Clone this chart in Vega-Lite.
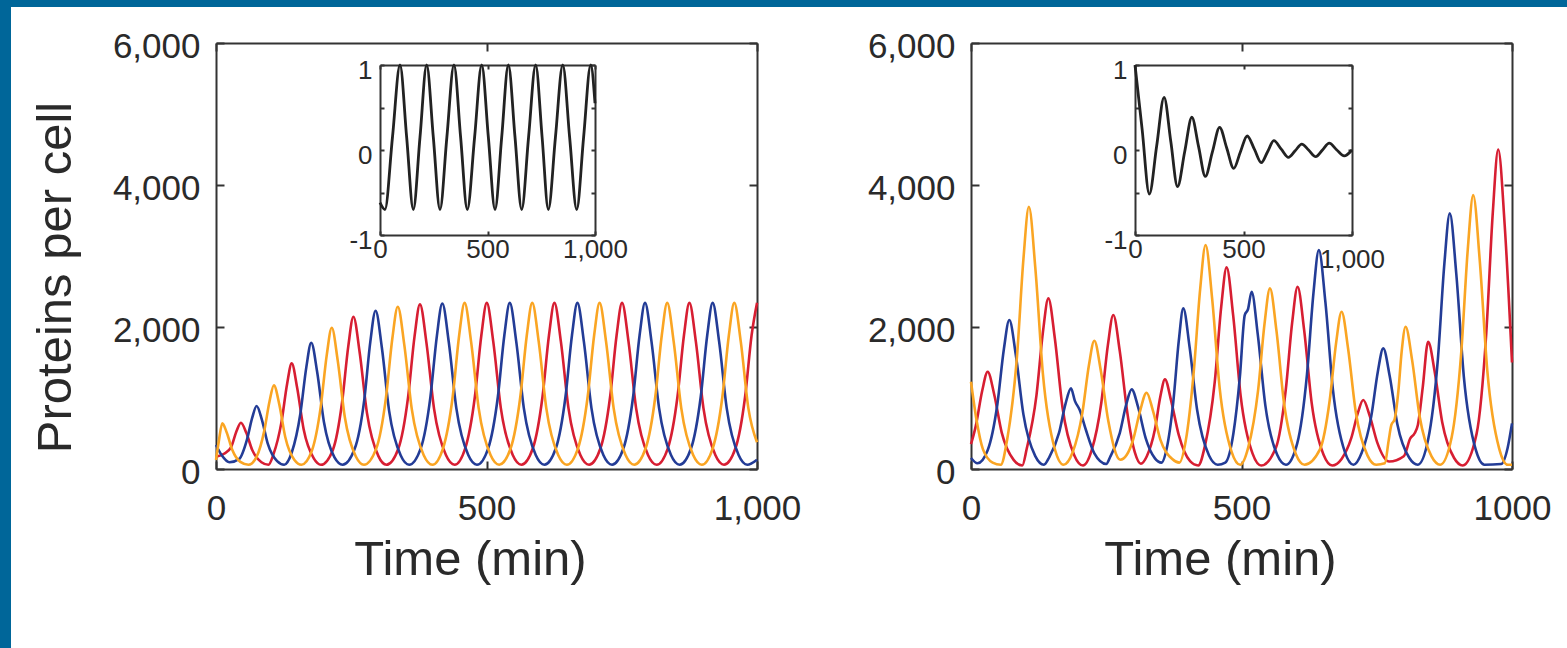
{
  "$schema": "https://vega.github.io/schema/vega-lite/v6.json",
  "width": 1556,
  "height": 641,
  "autosize": {"type": "none"},
  "padding": {"left": 11, "top": 7, "right": 0, "bottom": 0},
  "background": "#006699",
  "config": {
    "view": {"fill": "white", "stroke": null},
    "font": "Liberation Sans",
    "axis": {"grid": false, "domainColor": "#333333", "domainWidth": 2, "tickColor": "#333333", "tickWidth": 2, "labelColor": "#2a2a2a", "titleColor": "#2a2a2a", "labelFont": "Liberation Sans", "titleFont": "Liberation Sans", "titleFontWeight": "normal", "labelFlush": false, "labelOverlap": false}
  },
  "datasets": {
    "left": [
      {"s":"r","t":0,"v":173},{"s":"r","t":15,"v":215},{"s":"r","t":28,"v":309},{"s":"r","t":38,"v":534},{"s":"r","t":46,"v":652},{"s":"r","t":56,"v":510},{"s":"r","t":67,"v":267},{"s":"r","t":84,"v":96},{"s":"r","t":97,"v":60},
      {"s":"r","t":106,"v":203},{"s":"r","t":121,"v":660},{"s":"r","t":131.5,"v":1202},{"s":"r","t":140,"v":1488},{"s":"r","t":150,"v":1145},{"s":"r","t":162,"v":560},{"s":"r","t":181,"v":146},{"s":"r","t":194,"v":60},
      {"s":"r","t":216,"v":269},{"s":"r","t":233,"v":936},{"s":"r","t":244.5,"v":1728},{"s":"r","t":254,"v":2145},{"s":"r","t":265.5,"v":1645},{"s":"r","t":279,"v":790},{"s":"r","t":300,"v":185},{"s":"r","t":315,"v":60},
      {"s":"r","t":337,"v":286},{"s":"r","t":355,"v":1009},{"s":"r","t":367,"v":1867},{"s":"r","t":377,"v":2319},{"s":"r","t":389,"v":1777},{"s":"r","t":403,"v":851},{"s":"r","t":425,"v":196},{"s":"r","t":441,"v":60},
      {"s":"r","t":460.5,"v":288},{"s":"r","t":478.5,"v":1018},{"s":"r","t":490.5,"v":1884},{"s":"r","t":500.5,"v":2340},{"s":"r","t":512.5,"v":1793},{"s":"r","t":526.5,"v":858},{"s":"r","t":548.5,"v":197},{"s":"r","t":564.5,"v":60},
      {"s":"r","t":585.5,"v":288},{"s":"r","t":603.5,"v":1018},{"s":"r","t":615.5,"v":1884},{"s":"r","t":625.5,"v":2340},{"s":"r","t":637.5,"v":1793},{"s":"r","t":651.5,"v":858},{"s":"r","t":673.5,"v":197},{"s":"r","t":689.5,"v":60},
      {"s":"r","t":710.5,"v":288},{"s":"r","t":728.5,"v":1018},{"s":"r","t":740.5,"v":1884},{"s":"r","t":750.5,"v":2340},{"s":"r","t":762.5,"v":1793},{"s":"r","t":776.5,"v":858},{"s":"r","t":798.5,"v":197},{"s":"r","t":814.5,"v":60},
      {"s":"r","t":835,"v":288},{"s":"r","t":853,"v":1018},{"s":"r","t":865,"v":1884},{"s":"r","t":875,"v":2340},{"s":"r","t":887,"v":1793},{"s":"r","t":901,"v":858},{"s":"r","t":923,"v":197},{"s":"r","t":939,"v":60},
      {"s":"r","t":960,"v":288},{"s":"r","t":978,"v":1018},{"s":"r","t":990,"v":1884},{"s":"r","t":1000,"v":2340},
      {"s":"b","t":0,"v":338},{"s":"b","t":10,"v":200},{"s":"b","t":25,"v":95},{"s":"b","t":43,"v":143},{"s":"b","t":57,"v":407},{"s":"b","t":67,"v":722},{"s":"b","t":75,"v":887},{"s":"b","t":85,"v":689},{"s":"b","t":96,"v":349},{"s":"b","t":113,"v":110},{"s":"b","t":126,"v":60},
      {"s":"b","t":140,"v":232},{"s":"b","t":156,"v":782},{"s":"b","t":167,"v":1435},{"s":"b","t":176,"v":1779},{"s":"b","t":187,"v":1366},{"s":"b","t":199.5,"v":662},{"s":"b","t":219,"v":163},{"s":"b","t":234,"v":60},
      {"s":"b","t":256,"v":277},{"s":"b","t":274,"v":971},{"s":"b","t":285.3,"v":1795},{"s":"b","t":295,"v":2229},{"s":"b","t":306.6,"v":1708},{"s":"b","t":320,"v":819},{"s":"b","t":341.5,"v":190},{"s":"b","t":357,"v":60},
      {"s":"b","t":378.3,"v":287},{"s":"b","t":396.3,"v":1013},{"s":"b","t":408.3,"v":1876},{"s":"b","t":418.3,"v":2330},{"s":"b","t":430.3,"v":1785},{"s":"b","t":444.3,"v":854},{"s":"b","t":466.3,"v":196},{"s":"b","t":482.3,"v":60},
      {"s":"b","t":503,"v":288},{"s":"b","t":521,"v":1018},{"s":"b","t":533,"v":1884},{"s":"b","t":543,"v":2340},{"s":"b","t":555,"v":1793},{"s":"b","t":569,"v":858},{"s":"b","t":591,"v":197},{"s":"b","t":607,"v":60},
      {"s":"b","t":628,"v":288},{"s":"b","t":646,"v":1018},{"s":"b","t":658,"v":1884},{"s":"b","t":668,"v":2340},{"s":"b","t":680,"v":1793},{"s":"b","t":694,"v":858},{"s":"b","t":716,"v":197},{"s":"b","t":732,"v":60},
      {"s":"b","t":753,"v":288},{"s":"b","t":771,"v":1018},{"s":"b","t":783,"v":1884},{"s":"b","t":793,"v":2340},{"s":"b","t":805,"v":1793},{"s":"b","t":819,"v":858},{"s":"b","t":841,"v":197},{"s":"b","t":857,"v":60},
      {"s":"b","t":878,"v":288},{"s":"b","t":896,"v":1018},{"s":"b","t":908,"v":1884},{"s":"b","t":918,"v":2340},{"s":"b","t":930,"v":1793},{"s":"b","t":944,"v":858},{"s":"b","t":966,"v":197},{"s":"b","t":982,"v":60},{"s":"b","t":1000,"v":130},
      {"s":"o","t":0,"v":127},{"s":"o","t":5,"v":380},{"s":"o","t":11.6,"v":643},{"s":"o","t":20,"v":510},{"s":"o","t":30,"v":270},{"s":"o","t":45,"v":100},{"s":"o","t":60,"v":60},
      {"s":"o","t":75,"v":172},{"s":"o","t":89,"v":530},{"s":"o","t":99,"v":954},{"s":"o","t":107,"v":1178},{"s":"o","t":117,"v":910},{"s":"o","t":128,"v":451},{"s":"o","t":145,"v":127},{"s":"o","t":158,"v":60},
      {"s":"o","t":177,"v":253},{"s":"o","t":193.5,"v":871},{"s":"o","t":204.7,"v":1604},{"s":"o","t":214,"v":1990},{"s":"o","t":225,"v":1527},{"s":"o","t":238,"v":736},{"s":"o","t":258.5,"v":176},{"s":"o","t":273.5,"v":60},
      {"s":"o","t":296,"v":283},{"s":"o","t":314,"v":995},{"s":"o","t":326,"v":1841},{"s":"o","t":336,"v":2286},{"s":"o","t":348,"v":1752},{"s":"o","t":362,"v":839},{"s":"o","t":384,"v":194},{"s":"o","t":400,"v":60},
      {"s":"o","t":419.5,"v":288},{"s":"o","t":437.5,"v":1018},{"s":"o","t":449.5,"v":1884},{"s":"o","t":459.5,"v":2340},{"s":"o","t":471.5,"v":1793},{"s":"o","t":485.5,"v":858},{"s":"o","t":507.5,"v":197},{"s":"o","t":523.5,"v":60},
      {"s":"o","t":544.5,"v":288},{"s":"o","t":562.5,"v":1018},{"s":"o","t":574.5,"v":1884},{"s":"o","t":584.5,"v":2340},{"s":"o","t":596.5,"v":1793},{"s":"o","t":610.5,"v":858},{"s":"o","t":632.5,"v":197},{"s":"o","t":648.5,"v":60},
      {"s":"o","t":669,"v":288},{"s":"o","t":687,"v":1018},{"s":"o","t":699,"v":1884},{"s":"o","t":709,"v":2340},{"s":"o","t":721,"v":1793},{"s":"o","t":735,"v":858},{"s":"o","t":757,"v":197},{"s":"o","t":773,"v":60},
      {"s":"o","t":794,"v":288},{"s":"o","t":812,"v":1018},{"s":"o","t":824,"v":1884},{"s":"o","t":834,"v":2340},{"s":"o","t":846,"v":1793},{"s":"o","t":860,"v":858},{"s":"o","t":882,"v":197},{"s":"o","t":898,"v":60},
      {"s":"o","t":918,"v":288},{"s":"o","t":936,"v":1018},{"s":"o","t":948,"v":1884},{"s":"o","t":958,"v":2340},{"s":"o","t":970,"v":1793},{"s":"o","t":984,"v":858},{"s":"o","t":1000,"v":377}
    ],
    "right": [
      {"s":"r","t":0,"v":350},{"s":"r","t":8.8,"v":604},{"s":"r","t":20.8,"v":1106},{"s":"r","t":30.8,"v":1370},{"s":"r","t":42.8,"v":1053},{"s":"r","t":56.8,"v":512},{"s":"r","t":78.8,"v":129},{"s":"r","t":94.8,"v":50},
      {"s":"r","t":103,"v":285},{"s":"r","t":121,"v":1038},{"s":"r","t":133,"v":1932},{"s":"r","t":143,"v":2403},{"s":"r","t":155,"v":1838},{"s":"r","t":169,"v":874},{"s":"r","t":191,"v":191},{"s":"r","t":207,"v":50},
      {"s":"r","t":223,"v":262},{"s":"r","t":241,"v":940},{"s":"r","t":253,"v":1744},{"s":"r","t":263,"v":2168},{"s":"r","t":275,"v":1660},{"s":"r","t":289,"v":791},{"s":"r","t":303,"v":230},{"s":"r","t":314,"v":75},
      {"s":"r","t":325,"v":180},{"s":"r","t":340,"v":560},{"s":"r","t":350,"v":1020},{"s":"r","t":358.5,"v":1263},{"s":"r","t":370,"v":960},{"s":"r","t":384,"v":480},{"s":"r","t":405,"v":110},{"s":"r","t":420,"v":50},
      {"s":"r","t":432.5,"v":329},{"s":"r","t":450.5,"v":1222},{"s":"r","t":462.5,"v":2282},{"s":"r","t":472.5,"v":2840},{"s":"r","t":484.5,"v":2170},{"s":"r","t":498.5,"v":1027},{"s":"r","t":520.5,"v":217},{"s":"r","t":536.5,"v":50},
      {"s":"r","t":563.7,"v":302},{"s":"r","t":581.7,"v":1107},{"s":"r","t":593.7,"v":2064},{"s":"r","t":603.7,"v":2567},{"s":"r","t":615.7,"v":1963},{"s":"r","t":629.7,"v":931},{"s":"r","t":651.7,"v":201},{"s":"r","t":667.7,"v":50},
      {"s":"r","t":685,"v":142},{"s":"r","t":703,"v":437},{"s":"r","t":715,"v":787},{"s":"r","t":725,"v":971},{"s":"r","t":737,"v":750},{"s":"r","t":751,"v":372},{"s":"r","t":773,"v":105},{"s":"r","t":800,"v":180},
      {"s":"r","t":812,"v":430},{"s":"r","t":820,"v":503},{"s":"r","t":826,"v":620},{"s":"r","t":835,"v":1150},{"s":"r","t":845,"v":1793},{"s":"r","t":857,"v":1374},{"s":"r","t":871,"v":660},{"s":"r","t":893,"v":155},{"s":"r","t":909,"v":50},
      {"s":"r","t":934.5,"v":495},{"s":"r","t":952.5,"v":1919},{"s":"r","t":964.5,"v":3611},{"s":"r","t":974.5,"v":4501},{"s":"r","t":986.5,"v":3433},{"s":"r","t":1000,"v":1500},
      {"s":"b","t":0,"v":155},{"s":"b","t":12,"v":80},{"s":"b","t":30.8,"v":264},{"s":"b","t":48.8,"v":916},{"s":"b","t":60.8,"v":1690},{"s":"b","t":70.8,"v":2098},{"s":"b","t":82.8,"v":1609},{"s":"b","t":96.8,"v":773},{"s":"b","t":118.8,"v":182},{"s":"b","t":134.8,"v":60},
      {"s":"b","t":144.8,"v":168},{"s":"b","t":162.8,"v":512},{"s":"b","t":174.8,"v":921},{"s":"b","t":184.8,"v":1136},{"s":"b","t":192,"v":960},{"s":"b","t":201,"v":830},{"s":"b","t":212,"v":560},{"s":"b","t":228,"v":220},{"s":"b","t":250,"v":70},
      {"s":"b","t":257,"v":166},{"s":"b","t":275,"v":506},{"s":"b","t":287,"v":910},{"s":"b","t":297,"v":1122},{"s":"b","t":309,"v":867},{"s":"b","t":323,"v":432},{"s":"b","t":340,"v":150},{"s":"b","t":352,"v":90},
      {"s":"b","t":362,"v":300},{"s":"b","t":374,"v":950},{"s":"b","t":384,"v":1800},{"s":"b","t":392.4,"v":2262},{"s":"b","t":404,"v":1720},{"s":"b","t":418,"v":830},{"s":"b","t":440,"v":190},{"s":"b","t":456,"v":60},
      {"s":"b","t":470,"v":90},{"s":"b","t":485,"v":500},{"s":"b","t":497,"v":1300},{"s":"b","t":506,"v":2168},{"s":"b","t":512,"v":2250},{"s":"b","t":518.7,"v":2497},{"s":"b","t":530,"v":1900},{"s":"b","t":544,"v":900},{"s":"b","t":566,"v":200},{"s":"b","t":582,"v":60},
      {"s":"b","t":603,"v":362},{"s":"b","t":621,"v":1330},{"s":"b","t":633,"v":2478},{"s":"b","t":643,"v":3083},{"s":"b","t":655,"v":2357},{"s":"b","t":669,"v":1118},{"s":"b","t":691,"v":241},{"s":"b","t":707,"v":60},
      {"s":"b","t":722,"v":224},{"s":"b","t":740,"v":748},{"s":"b","t":752,"v":1371},{"s":"b","t":762,"v":1699},{"s":"b","t":774,"v":1306},{"s":"b","t":788,"v":634},{"s":"b","t":810,"v":158},{"s":"b","t":826,"v":60},
      {"s":"b","t":845,"v":414},{"s":"b","t":863,"v":1547},{"s":"b","t":875,"v":2892},{"s":"b","t":885,"v":3600},{"s":"b","t":897,"v":2750},{"s":"b","t":911,"v":1299},{"s":"b","t":933,"v":272},{"s":"b","t":949,"v":60},{"s":"b","t":980,"v":70},{"s":"b","t":992,"v":300},{"s":"b","t":1000,"v":643},
      {"s":"o","t":0,"v":1229},{"s":"o","t":10,"v":700},{"s":"o","t":22,"v":280},{"s":"o","t":40,"v":90},{"s":"o","t":55,"v":60},
      {"s":"o","t":67,"v":423},{"s":"o","t":85,"v":1586},{"s":"o","t":97,"v":2966},{"s":"o","t":107,"v":3693},{"s":"o","t":119,"v":2821},{"s":"o","t":133,"v":1332},{"s":"o","t":155,"v":278},{"s":"o","t":171,"v":60},
      {"s":"o","t":187.9,"v":235},{"s":"o","t":205.9,"v":794},{"s":"o","t":217.9,"v":1458},{"s":"o","t":227.9,"v":1807},{"s":"o","t":239.9,"v":1388},{"s":"o","t":253.9,"v":671},{"s":"o","t":275.9,"v":130},
      {"s":"o","t":288,"v":200},{"s":"o","t":300,"v":420},{"s":"o","t":312,"v":800},{"s":"o","t":324.6,"v":1075},{"s":"o","t":336,"v":830},{"s":"o","t":350,"v":415},{"s":"o","t":372,"v":140},{"s":"o","t":385,"v":90},
      {"s":"o","t":397,"v":400},{"s":"o","t":411.6,"v":1359},{"s":"o","t":423.6,"v":2535},{"s":"o","t":433.6,"v":3154},{"s":"o","t":445.6,"v":2411},{"s":"o","t":459.6,"v":1143},{"s":"o","t":481.6,"v":246},{"s":"o","t":497.6,"v":60},
      {"s":"o","t":512.6,"v":308},{"s":"o","t":530.6,"v":1103},{"s":"o","t":542.6,"v":2047},{"s":"o","t":552.6,"v":2544},{"s":"o","t":564.6,"v":1948},{"s":"o","t":578.6,"v":929},{"s":"o","t":600.6,"v":209},{"s":"o","t":616.6,"v":60},
      {"s":"o","t":645,"v":276},{"s":"o","t":663,"v":965},{"s":"o","t":675,"v":1784},{"s":"o","t":685,"v":2215},{"s":"o","t":697,"v":1698},{"s":"o","t":711,"v":814},{"s":"o","t":733,"v":189},{"s":"o","t":749,"v":60},
      {"s":"o","t":765,"v":80},{"s":"o","t":772,"v":400},{"s":"o","t":777,"v":620},{"s":"o","t":783,"v":700},{"s":"o","t":790,"v":1100},{"s":"o","t":796,"v":1650},{"s":"o","t":803.3,"v":2004},{"s":"o","t":815.3,"v":1537},{"s":"o","t":829.3,"v":740},{"s":"o","t":851.3,"v":177},{"s":"o","t":867.3,"v":60},
      {"s":"o","t":888.3,"v":440},{"s":"o","t":906.3,"v":1655},{"s":"o","t":918.3,"v":3098},{"s":"o","t":928.3,"v":3858},{"s":"o","t":940.3,"v":2946},{"s":"o","t":954.3,"v":1389},{"s":"o","t":976.3,"v":288},{"s":"o","t":992.3,"v":60},{"s":"o","t":1000,"v":60}
    ],
    "insetL": [
      {"t":0,"v":-0.62},{"t":23,"v":-0.7},{"t":58,"v":0.15},{"t":93,"v":1},{"t":124,"v":0.15},{"t":155,"v":-0.7},{"t":186,"v":0.15},{"t":217,"v":1},{"t":248,"v":0.15},{"t":279,"v":-0.7},{"t":311,"v":0.15},{"t":344,"v":1},{"t":375,"v":0.15},{"t":406,"v":-0.7},{"t":440,"v":0.15},{"t":473,"v":1},{"t":504,"v":0.15},{"t":535,"v":-0.7},{"t":566,"v":0.15},{"t":597,"v":1},{"t":628,"v":0.15},{"t":659,"v":-0.7},{"t":691,"v":0.15},{"t":724,"v":1},{"t":754,"v":0.15},{"t":783,"v":-0.7},{"t":816,"v":0.15},{"t":850,"v":1},{"t":882,"v":0.15},{"t":915,"v":-0.7},{"t":947,"v":0.15},{"t":980,"v":1},{"t":1000,"v":0.55}
    ],
    "insetR": [
      {"t":0,"v":1},{"t":33,"v":0.24},{"t":66,"v":-0.518},{"t":100,"v":0.05},{"t":134,"v":0.62},{"t":165,"v":0.1},{"t":196,"v":-0.43},{"t":229,"v":-0.02},{"t":262,"v":0.385},{"t":293,"v":0.04},{"t":324,"v":-0.31},{"t":357,"v":-0.02},{"t":390,"v":0.267},{"t":422,"v":0.03},{"t":455,"v":-0.216},{"t":486,"v":-0.02},{"t":517,"v":0.165},{"t":550,"v":0.01},{"t":582,"v":-0.149},{"t":611,"v":-0.02},{"t":640,"v":0.11},{"t":674,"v":0.01},{"t":707,"v":-0.086},{"t":738,"v":-0.01},{"t":768.5,"v":0.07},{"t":800,"v":0},{"t":833,"v":-0.078},{"t":864,"v":0},{"t":895,"v":0.08},{"t":930,"v":0},{"t":964,"v":-0.07},{"t":1000,"v":0}
    ]
  },
  "resolve": {"scale": {"x": "independent", "y": "independent"}, "axis": {"x": "independent", "y": "independent"}},
  "layer": [
    {
      "data": {"name": "left"},
      "mark": {"type": "line", "interpolate": "monotone", "strokeWidth": 2.6},
      "encoding": {
        "x": {"field": "t", "type": "quantitative", "scale": {"domain": [0, 1000], "range": [205, 746], "nice": false, "zero": false},
          "axis": {"orient": "bottom", "offset": -179, "values": [0, 500, 1000], "format": ",d", "tickSize": -8, "labelPadding": 30, "labelFontSize": 35, "title": "Time (min)", "titleFontSize": 49, "titleX": 459, "titleY": 105, "titleBaseline": "alphabetic", "titleAlign": "center"}},
        "y": {"field": "v", "type": "quantitative", "scale": {"domain": [0, 6000], "range": [462, 36], "nice": false, "zero": false},
          "axis": {"orient": "left", "offset": -205, "values": [0, 2000, 4000, 6000], "format": ",d", "tickSize": -8, "labelPadding": 24, "labelFontSize": 35, "labelOffset": 3, "title": "Proteins per cell", "titleFontSize": 49, "titleX": -161, "titleY": 270, "titleBaseline": "middle", "titleAlign": "center", "titleAngle": -90}},
        "color": {"field": "s", "type": "nominal", "scale": {"domain": ["r", "b", "o"], "range": ["#d71e32", "#233c96", "#faa523"]}, "legend": null}
      }
    },
    {
      "data": {"name": "left"},
      "mark": {"type": "point", "opacity": 0},
      "encoding": {
        "x": {"field": "t", "type": "quantitative", "scale": {"domain": [0, 1000], "range": [205, 746], "nice": false, "zero": false},
          "axis": {"orient": "top", "offset": -36, "values": [0, 500, 1000], "tickSize": -8, "labels": false, "title": null}},
        "y": {"field": "v", "type": "quantitative", "scale": {"domain": [0, 6000], "range": [462, 36], "nice": false, "zero": false},
          "axis": {"orient": "right", "offset": -810, "values": [0, 2000, 4000, 6000], "tickSize": -8, "labels": false, "title": null}}
      }
    },
    {
      "data": {"name": "right"},
      "mark": {"type": "line", "interpolate": "monotone", "strokeWidth": 2.6},
      "encoding": {
        "x": {"field": "t", "type": "quantitative", "scale": {"domain": [0, 1000], "range": [960, 1501], "nice": false, "zero": false},
          "axis": {"orient": "bottom", "offset": -179, "values": [0, 500, 1000], "format": "d", "tickSize": -8, "labelPadding": 30, "labelFontSize": 35, "title": "Time (min)", "titleFontSize": 49, "titleX": 1209, "titleY": 105, "titleBaseline": "alphabetic", "titleAlign": "center"}},
        "y": {"field": "v", "type": "quantitative", "scale": {"domain": [0, 6000], "range": [462, 36], "nice": false, "zero": false},
          "axis": {"orient": "left", "offset": -960, "values": [0, 2000, 4000, 6000], "format": ",d", "tickSize": -8, "labelPadding": 24, "labelFontSize": 35, "labelOffset": 3, "title": null}},
        "color": {"field": "s", "type": "nominal", "scale": {"domain": ["r", "b", "o"], "range": ["#d71e32", "#233c96", "#faa523"]}, "legend": null}
      }
    },
    {
      "data": {"name": "right"},
      "mark": {"type": "point", "opacity": 0},
      "encoding": {
        "x": {"field": "t", "type": "quantitative", "scale": {"domain": [0, 1000], "range": [960, 1501], "nice": false, "zero": false},
          "axis": {"orient": "top", "offset": -36, "values": [0, 500, 1000], "tickSize": -8, "labels": false, "title": null}},
        "y": {"field": "v", "type": "quantitative", "scale": {"domain": [0, 6000], "range": [462, 36], "nice": false, "zero": false},
          "axis": {"orient": "right", "offset": -55, "values": [0, 2000, 4000, 6000], "tickSize": -8, "labels": false, "title": null}}
      }
    },
    {
      "data": {"name": "insetL"},
      "mark": {"type": "line", "interpolate": "monotone", "strokeWidth": 2.8, "color": "#222222"},
      "encoding": {
        "x": {"field": "t", "type": "quantitative", "scale": {"domain": [0, 1000], "range": [369, 584], "nice": false, "zero": false},
          "axis": {"orient": "bottom", "offset": -413, "values": [0, 500, 1000], "format": ",d", "tickSize": -4, "labelPadding": 5, "labelFontSize": 26, "title": null}},
        "y": {"field": "v", "type": "quantitative", "scale": {"domain": [-1, 1], "range": [228, 58], "nice": false, "zero": false},
          "axis": {"orient": "left", "offset": -369, "values": [-1, -0.5, 0, 0.5, 1], "labelExpr": "datum.value == 1 ? '1' : datum.value == 0 ? '0' : datum.value == -1 ? '-1' : ''", "tickSize": -4, "labelPadding": 12, "labelFontSize": 26, "labelOffset": 5, "title": null}}
      }
    },
    {
      "data": {"name": "insetL"},
      "mark": {"type": "point", "opacity": 0},
      "encoding": {
        "x": {"field": "t", "type": "quantitative", "scale": {"domain": [0, 1000], "range": [369, 584], "nice": false, "zero": false},
          "axis": {"orient": "top", "offset": -58, "values": [0, 500, 1000], "tickSize": -4, "labels": false, "title": null}},
        "y": {"field": "v", "type": "quantitative", "scale": {"domain": [-1, 1], "range": [228, 58], "nice": false, "zero": false},
          "axis": {"orient": "right", "offset": -972, "values": [-1, -0.5, 0, 0.5, 1], "tickSize": -4, "labels": false, "title": null}}
      }
    },
    {
      "data": {"name": "insetR"},
      "mark": {"type": "line", "interpolate": "monotone", "strokeWidth": 2.8, "color": "#222222"},
      "encoding": {
        "x": {"field": "t", "type": "quantitative", "scale": {"domain": [0, 1000], "range": [1124, 1341], "nice": false, "zero": false},
          "axis": {"orient": "bottom", "offset": -413, "values": [0, 500, 1000], "format": ",d", "tickSize": -4, "labelPadding": {"condition": {"test": "datum.value == 1000", "value": 15}, "value": 5}, "labelFontSize": 26, "title": null}},
        "y": {"field": "v", "type": "quantitative", "scale": {"domain": [-1, 1], "range": [228, 58], "nice": false, "zero": false},
          "axis": {"orient": "left", "offset": -1124, "values": [-1, -0.5, 0, 0.5, 1], "labelExpr": "datum.value == 1 ? '1' : datum.value == 0 ? '0' : datum.value == -1 ? '-1' : ''", "tickSize": -4, "labelPadding": 12, "labelFontSize": 26, "labelOffset": 5, "title": null}}
      }
    },
    {
      "data": {"name": "insetR"},
      "mark": {"type": "point", "opacity": 0},
      "encoding": {
        "x": {"field": "t", "type": "quantitative", "scale": {"domain": [0, 1000], "range": [1124, 1341], "nice": false, "zero": false},
          "axis": {"orient": "top", "offset": -58, "values": [0, 500, 1000], "tickSize": -4, "labels": false, "title": null}},
        "y": {"field": "v", "type": "quantitative", "scale": {"domain": [-1, 1], "range": [228, 58], "nice": false, "zero": false},
          "axis": {"orient": "right", "offset": -215, "values": [-1, -0.5, 0, 0.5, 1], "tickSize": -4, "labels": false, "title": null}}
      }
    }
  ]
}
